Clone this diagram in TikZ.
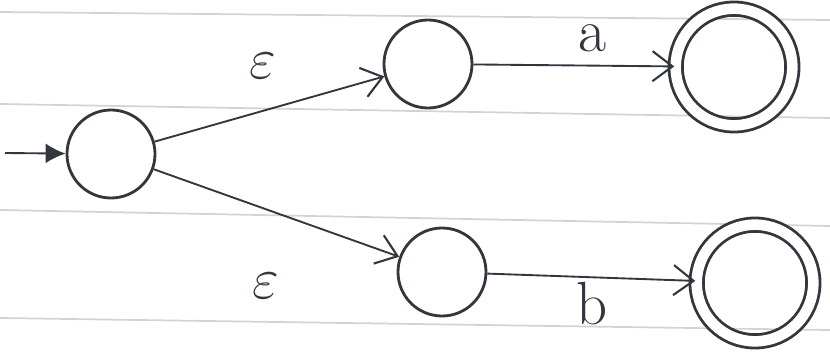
\documentclass[tikz,border=0pt]{standalone}
\usepackage{amsmath,amssymb}
\usepackage{xcolor}
\usetikzlibrary{arrows.meta,positioning}
\definecolor{inkgray}{HTML}{33363D}
\definecolor{paperline}{HTML}{D2D4D4}

\begin{document}
\begin{tikzpicture}[
  x=0.03cm, y=-0.03cm,
  font=\fontsize{52}{52}\selectfont,
  state/.style={circle, draw=inkgray, line width=2.4pt, minimum size=2.64cm, inner sep=0pt},
  accept/.style={state, minimum size=3.5cm, double=white, double distance=9pt, line width=2.4pt},
  arrow/.style={-{Straight Barb[length=6mm,width=9mm,line width=1.8pt]}, draw=inkgray, line width=1.6pt},
  startarrow/.style={-{Latex[length=6mm,width=6mm]}, draw=inkgray, line width=1.6pt},
  ruled/.style={draw=paperline, line width=1.5pt},
  eps/.style={text=inkgray, font=\Huge, scale=2}
]
  \useasboundingbox (0,0) rectangle (830,356);
  % ruled paper
  \draw[ruled] (0,12) -- (830,20);
  \draw[ruled] (0,104) -- (830,118);
  \draw[ruled] (0,210) -- (830,226);
  \draw[ruled] (0,318) -- (830,330);
  % states
  \node[state] (q0) at (111,154) {};
  \node[state] (q1) at (428,64) {};
  \node[state] (q2) at (442,272) {};
  \node[accept] (q3) at (734,67) {};
  \node[accept] (q4) at (755,283) {};
  \coordinate (in) at (5,153);
  % transitions
  \draw[startarrow] (in) -- (q0);
  \draw[arrow] (q0) -- (q1);
  \draw[arrow] (q0) -- (q2);
  \draw[arrow] (q1) -- (q3);
  \draw[arrow] (q2) -- (q4);
  \node[eps] (e1) at (263,66) {$\varepsilon$};
  \node[eps] (e2) at (266,286) {$\varepsilon$};
  \node[text=inkgray] (la) at (592,38) {a};
  \node[text=inkgray] (lb) at (592,304) {b};
\end{tikzpicture}
\end{document}
